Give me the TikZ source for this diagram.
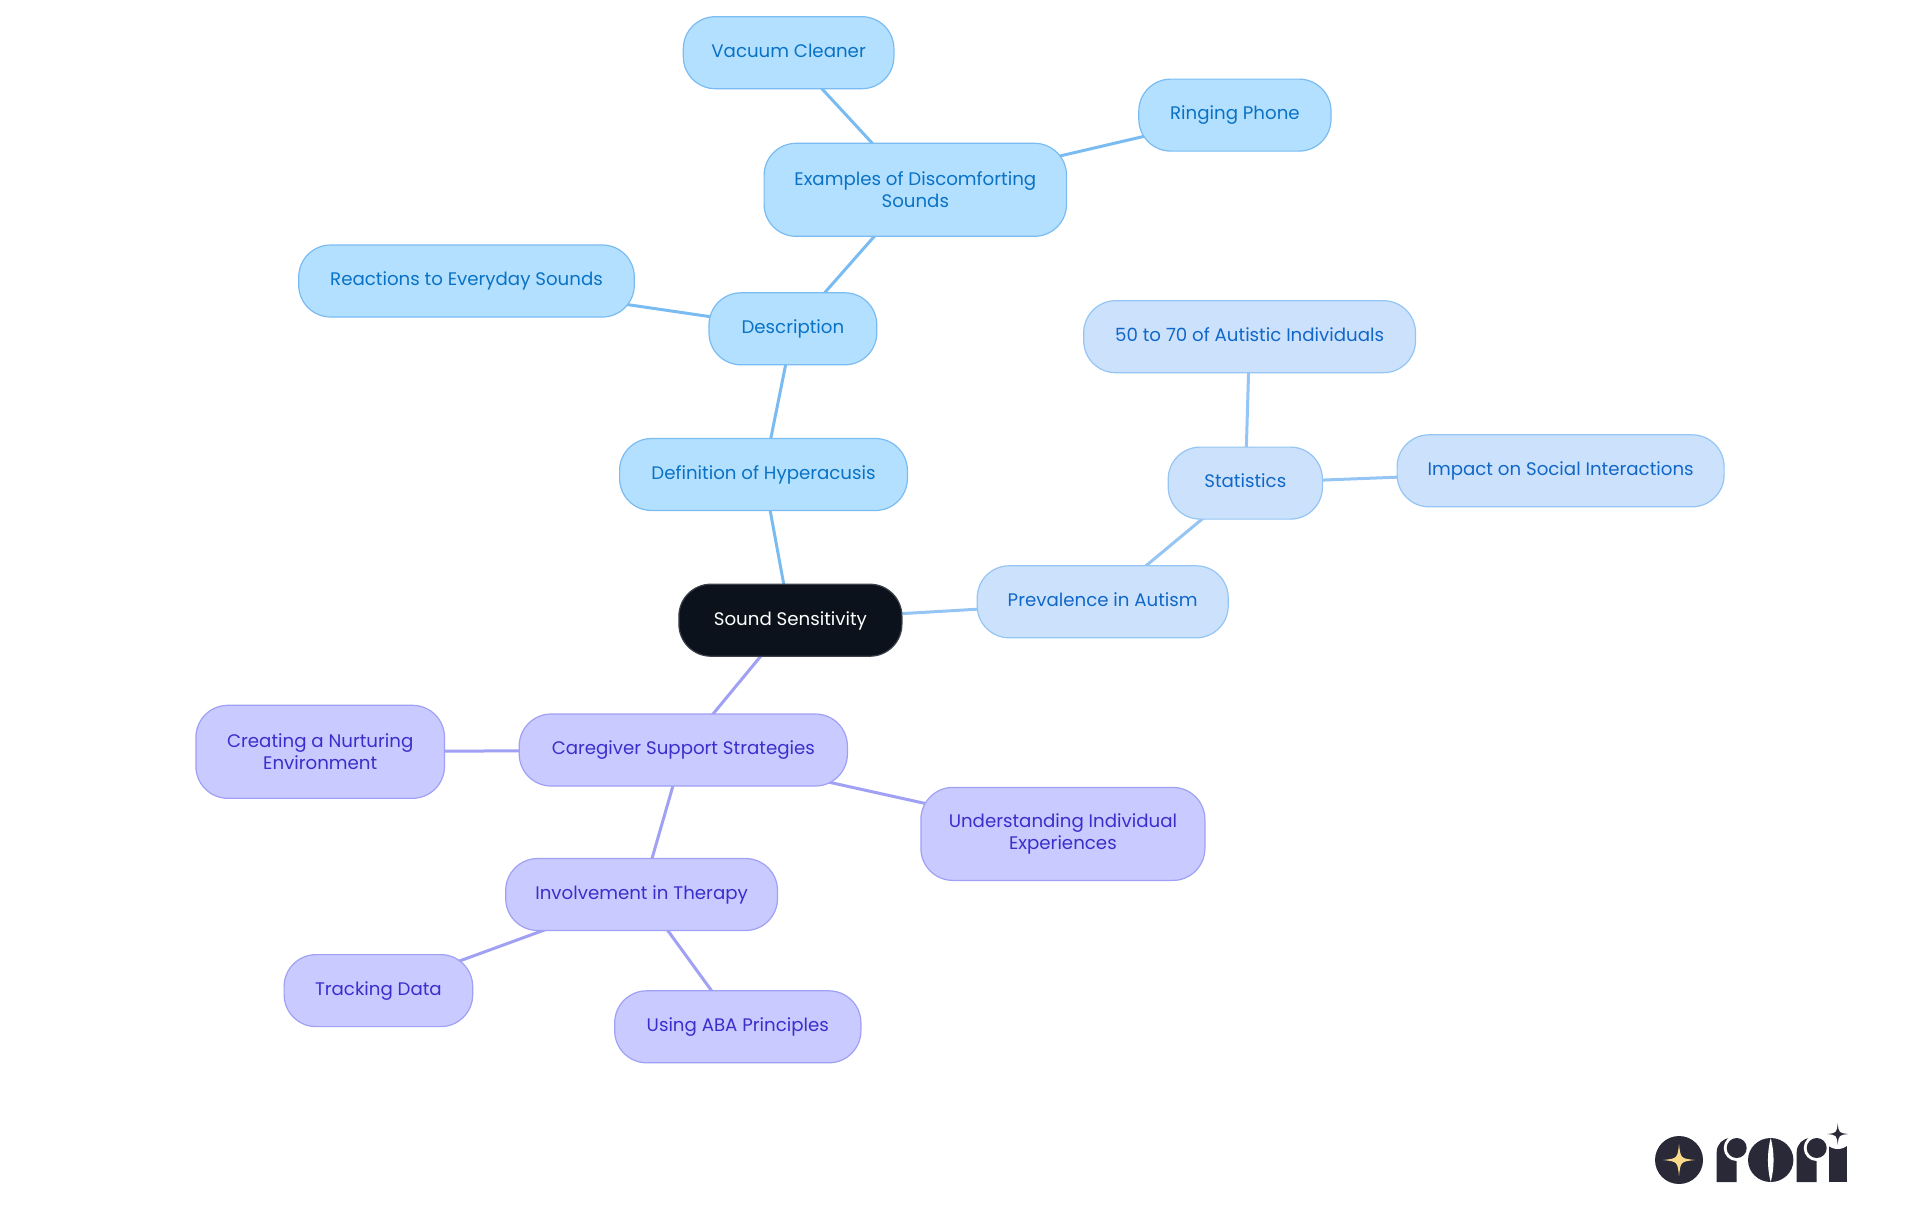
\documentclass[tikz,border=0pt]{standalone}
\usepackage{fontspec}
\setmainfont{Poppins}
\usetikzlibrary{positioning, backgrounds}

\definecolor{rootfill}{HTML}{0B121B}
\definecolor{bluefill}{HTML}{B3E0FF}
\definecolor{blueline}{HTML}{7ABCF2}
\definecolor{bluetext}{HTML}{0A72C4}
\definecolor{palefill}{HTML}{CCE2FC}
\definecolor{paleline}{HTML}{94C5F4}
\definecolor{paletext}{HTML}{1167C8}
\definecolor{violetfill}{HTML}{C9CAFF}
\definecolor{violetline}{HTML}{A0A0F5}
\definecolor{violettext}{HTML}{3A2FCB}
\definecolor{logodark}{HTML}{2A2937}
\definecolor{logogold}{HTML}{FBD98B}

\tikzset{
    mapnode/.style={rounded corners=16pt, inner sep=0pt, minimum height=36pt, align=center,
        font=\fontsize{9.1}{11}\selectfont, line width=0.6pt, text height=6.8pt, text depth=2pt},
    rootnode/.style={mapnode, fill=rootfill, draw=rootfill!80!white, text=white},
    bluenode/.style={mapnode, fill=bluefill, draw=blueline, text=bluetext},
    palenode/.style={mapnode, fill=palefill, draw=paleline, text=paletext},
    violetnode/.style={mapnode, fill=violetfill, draw=violetline, text=violettext},
    twoline/.style={minimum height=46.5pt, text height=, text depth=},
    link/.style={line width=1.5pt}
}

\newcommand{\logostar}[4]{\path[fill=#4] (#1,#2-#3) .. controls (#1+#3*0.1,#2-#3*0.1) .. (#1+#3,#2)
    .. controls (#1+#3*0.1,#2+#3*0.1) .. (#1,#2+#3)
    .. controls (#1-#3*0.1,#2+#3*0.1) .. (#1-#3,#2)
    .. controls (#1-#3*0.1,#2-#3*0.1) .. cycle;}
\newcommand{\logor}[1]{%
    \fill[logodark] (#1,1182) -- (#1,1152) arc[start angle=180, end angle=270, radius=14] -- (#1+20,1138) -- (#1+20,1182) -- cycle;
    \fill[white] (#1+20,1148) circle[radius=13];
    \fill[logodark] (#1+20,1148) circle[radius=10];
}

\begin{document}
\begin{tikzpicture}[on grid]
    \useasboundingbox (0,0) rectangle (960pt,-607.5pt);

    % Centre
    \node[rootnode, minimum width=111.5pt] (root) at (395.2pt,-310.1pt) {Sound Sensitivity};

    % Definition branch
    \node[bluenode, minimum width=143.9pt] (definition) [above left=72.85pt and 13.45pt of root] {Definition of Hyperacusis};
    \node[bluenode, minimum width=83.9pt] (description) [above right=72.85pt and 14.7pt of definition] {Description};
    \node[bluenode, minimum width=167.8pt] (reactions) [above left=23.9pt and 163.2pt of description] {Reactions to Everyday Sounds};
    \node[bluenode, twoline, minimum width=151.2pt] (examples) [above right=69.5pt and 61.2pt of description] {Examples of Discomforting\\Sounds};
    \node[bluenode, minimum width=105.3pt] (vacuum) [above left=68.55pt and 63.35pt of examples] {Vacuum Cleaner};
    \node[bluenode, minimum width=96.1pt] (ringing) [above right=37.35pt and 159.8pt of examples] {Ringing Phone};

    % Prevalence branch
    \node[palenode, minimum width=125.5pt] (prevalence) [above right=9.2pt and 156.15pt of root] {Prevalence in Autism};
    \node[palenode, minimum width=77.1pt] (statistics) [above right=59.35pt and 71.3pt of prevalence] {Statistics};
    \node[palenode, minimum width=165.9pt] (fifty) [above right=73.2pt and 2.15pt of statistics] {50 to 70 of Autistic Individuals};
    \node[palenode, minimum width=163.5pt] (impact) [above right=6.15pt and 157.65pt of statistics] {Impact on Social Interactions};

    % Caregiver branch
    \node[violetnode, minimum width=164.1pt] (caregiver) [below left=64.9pt and 53.55pt of root] {Caregiver Support Strategies};
    \node[violetnode, twoline, minimum width=124.3pt] (nurturing) [below left=0.9pt and 181.55pt of caregiver] {Creating a Nurturing\\Environment};
    \node[violetnode, twoline, minimum width=142pt] (understanding) [below right=41.95pt and 189.8pt of caregiver] {Understanding Individual\\Experiences};
    \node[violetnode, minimum width=135.9pt] (therapy) [below left=72.25pt and 20.85pt of caregiver] {Involvement in Therapy};
    \node[violetnode, minimum width=94.3pt] (tracking) [below left=48.05pt and 131.6pt of therapy] {Tracking Data};
    \node[violetnode, minimum width=123.1pt] (principles) [below right=66.15pt and 48.1pt of therapy] {Using ABA Principles};

    % Links
    \begin{pgfonlayer}{background}
        \path[link, draw=blueline]
            (root.center) edge (definition.center)
            (definition.center) edge (description.center)
            (description.center) edge (reactions.center)
                                 edge (examples.center)
            (examples.center) edge (vacuum.center)
                              edge (ringing.center);
        \path[link, draw=paleline]
            (root.center) edge (prevalence.center)
            (prevalence.center) edge (statistics.center)
            (statistics.center) edge (fifty.center)
                                edge (impact.center);
        \path[link, draw=violetline]
            (root.center) edge (caregiver.center)
            (caregiver.center) edge (nurturing.center)
                               edge (understanding.center)
                               edge (therapy.center)
            (therapy.center) edge (tracking.center)
                             edge (principles.center);
    \end{pgfonlayer}

    % Logo
    \begin{scope}[x=0.5pt, y=-0.5pt]
        \fill[logodark] (1679,1160) circle[radius=24];
        \logostar{1679}{1160}{16}{logogold}
        \logor{1716.7}
        \fill[logodark] (1770.7,1160) ellipse[x radius=22.7, y radius=22];
        \path[fill=white] (1770.7,1138) .. controls (1774.5,1152) and (1774.5,1168) .. (1770.7,1182)
            .. controls (1767,1168) and (1767,1152) .. cycle;
        \logor{1796.7}
        \fill[logodark] (1828.7,1142) rectangle (1846.7,1182);
        \fill[white] (1837.7,1134) circle[radius=15];
        \logostar{1837.7}{1134}{10.5}{logodark}
    \end{scope}
\end{tikzpicture}
\end{document}
